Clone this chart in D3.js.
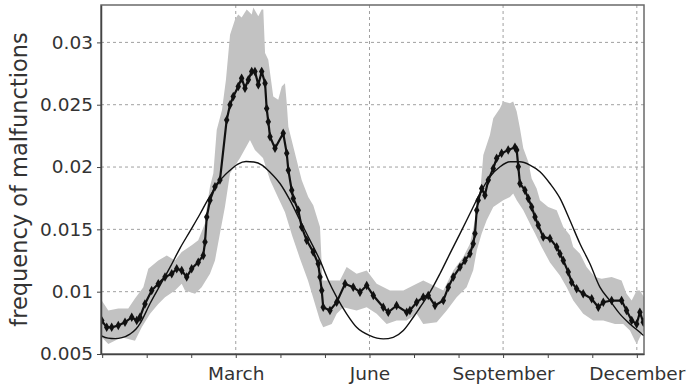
<!DOCTYPE html>
<html>
<head>
<meta charset="utf-8">
<script src="https://cdn.jsdelivr.net/npm/d3@7"></script>
<style>
  body { margin: 0; background: #fff; }
  text { font-family: "DejaVu Sans", sans-serif; fill: #333; }
</style>
</head>
<body>
<div id="chart"></div>
<script>
(function () {

  // Month ticks (day of year, months drawn evenly) and the labelled ones
  const monthTicks = [-30.4, 0, 30.4, 60.8, 91.3, 121.7, 152.1, 182.5, 212.9, 243.3, 273.8, 304.2, 334.6]
  const labelTicks = [60.8, 152.1, 243.3, 334.6]
  const labelNames = ["March", "June", "September", "December"]

  const yTicks = [0.005, 0.01, 0.015, 0.02, 0.025, 0.03]
  const yTickLabels = ["0.005", "0.01", "0.015", "0.02", "0.025", "0.03"]

  // Observed frequency [day, value]
  const observed = [
    [-30.7, 0.00768], [-27.3, 0.00714], [-23.9, 0.00714], [-19.4, 0.00728], [-14.8, 0.00754],
    [-10.2, 0.00795], [-6.8, 0.00768], [-4.6, 0.00795], [-1.2, 0.00902], [3.4, 0.01009],
    [7.9, 0.01063], [12.5, 0.01117], [17.1, 0.01144], [20.5, 0.01184], [23.9, 0.0117],
    [27.3, 0.01117], [30.7, 0.01184], [35.2, 0.01237], [38.6, 0.01291], [39.8, 0.01398],
    [41.0, 0.01599], [43.2, 0.01734], [46.6, 0.01841], [50.0, 0.01895], [54.6, 0.02378],
    [56.9, 0.02499], [59.1, 0.02565], [62.5, 0.02646], [64.8, 0.02713], [67.1, 0.02633],
    [69.4, 0.0270], [71.7, 0.02767], [73.9, 0.02767], [76.2, 0.0266], [78.5, 0.02767],
    [80.8, 0.02673], [81.9, 0.0247], [83.0, 0.02364], [84.2, 0.02243], [87.6, 0.0215],
    [93.2, 0.02271], [95.6, 0.0211], [96.7, 0.01975], [99.0, 0.01814], [100.1, 0.01748],
    [103.5, 0.01653], [105.8, 0.01519], [109.2, 0.01412], [113.7, 0.01318], [117.1, 0.01224],
    [118.3, 0.01117], [119.5, 0.01009], [120.5, 0.00875], [125.1, 0.00849], [129.7, 0.00915],
    [135.4, 0.01063], [141.0, 0.01036], [145.6, 0.00996], [150.2, 0.0105], [154.7, 0.00969],
    [161.5, 0.00875], [164.9, 0.00835], [170.6, 0.00889], [177.5, 0.00835], [179.7, 0.00849],
    [184.3, 0.00915], [188.8, 0.00956], [192.2, 0.0097], [196.8, 0.00889], [202.5, 0.00929],
    [205.9, 0.01036], [209.3, 0.01117], [213.9, 0.01197], [217.3, 0.01251], [220.7, 0.01305],
    [222.9, 0.01385], [224.1, 0.01466], [225.3, 0.01653], [226.3, 0.01734], [228.7, 0.01828],
    [230.9, 0.01774], [233.2, 0.01895], [236.6, 0.01989], [238.9, 0.0207], [242.3, 0.0211],
    [246.8, 0.02136], [251.4, 0.02158], [252.6, 0.02136], [253.7, 0.02002], [254.8, 0.01868],
    [258.2, 0.01814], [260.5, 0.01748], [262.8, 0.0168], [265.1, 0.01599], [267.3, 0.01533],
    [270.7, 0.01439], [275.3, 0.01426], [279.9, 0.01358], [282.1, 0.01305], [284.4, 0.01251],
    [287.8, 0.01157], [290.1, 0.01076], [293.5, 0.01023], [298.0, 0.00983], [303.8, 0.00943],
    [308.3, 0.00875], [311.7, 0.00915], [317.4, 0.00929], [324.2, 0.00929], [327.6, 0.00849],
    [331.1, 0.00768], [334.5, 0.00741], [336.7, 0.00835], [339.0, 0.00754]
  ]

  // Fitted seasonal curve [day, value]
  const fitted = [
    [-31.2, 0.00647], [-26.4, 0.00627], [-21.6, 0.00623], [-16.9, 0.00631], [-11.4, 0.0066],
    [-7.3, 0.007], [-4.6, 0.00744], [2.3, 0.00905], [9.1, 0.0105], [15.9, 0.01195],
    [22.7, 0.01348], [29.5, 0.01484], [36.3, 0.01621], [41.2, 0.01726], [46.6, 0.0183],
    [51.4, 0.01911], [56.9, 0.01975], [62.3, 0.02024], [67.8, 0.02044], [73.2, 0.0204],
    [78.7, 0.02016], [84.2, 0.01959], [91.0, 0.01868], [97.8, 0.01734], [104.6, 0.01573],
    [111.5, 0.01412], [118.3, 0.01251], [124.0, 0.0109], [129.7, 0.00956], [136.5, 0.00822],
    [143.3, 0.00714], [152.4, 0.00647], [161.5, 0.00621], [168.3, 0.00634], [175.2, 0.00688],
    [182.0, 0.00795], [186.6, 0.00875], [193.4, 0.00996], [200.2, 0.01144], [207.0, 0.01305],
    [213.9, 0.01466], [220.7, 0.01627], [227.5, 0.01788], [234.3, 0.01921], [241.2, 0.02002],
    [248.0, 0.02042], [254.8, 0.02042], [261.6, 0.02016], [268.5, 0.01962], [275.3, 0.01868],
    [282.1, 0.0175], [288.9, 0.01573], [295.8, 0.01385], [302.6, 0.01224], [309.4, 0.01036],
    [316.2, 0.00929], [323.0, 0.00822], [329.9, 0.00741], [336.7, 0.00674], [339.4, 0.00647]
  ]

  // Grey band, upper and lower edges [day, value]
  const bandUpper = [
    [-30.7, 0.00929], [-26.2, 0.00849], [-19.4, 0.00865], [-12.6, 0.00865], [-8.0, 0.00945],
    [-2.3, 0.01036], [1.1, 0.01184], [7.9, 0.01251], [13.7, 0.01291], [19.3, 0.01251],
    [23.9, 0.01318], [30.7, 0.01372], [35.2, 0.01412], [39.8, 0.01549], [41.2, 0.01694],
    [43.2, 0.01841], [45.5, 0.01951], [47.8, 0.02297], [51.4, 0.02458], [54.1, 0.0270],
    [56.9, 0.03062], [60.3, 0.03183], [62.5, 0.03223], [64.8, 0.03199], [68.3, 0.03263],
    [71.7, 0.03223], [72.8, 0.03279], [76.2, 0.03209], [78.5, 0.03263], [79.6, 0.03263],
    [80.8, 0.02915], [83.0, 0.02861], [86.4, 0.02565], [89.8, 0.02539], [92.2, 0.02646],
    [94.4, 0.02673], [95.6, 0.02512], [96.7, 0.02324], [101.2, 0.0211], [105.8, 0.01895],
    [110.3, 0.0176], [113.7, 0.01694], [118.3, 0.01519], [120.0, 0.0109], [125.1, 0.0109],
    [131.9, 0.0109], [136.5, 0.01197], [143.3, 0.01144], [150.2, 0.0117], [157.0, 0.01063],
    [166.1, 0.01009], [175.2, 0.01009], [184.3, 0.01063], [188.8, 0.0109], [193.4, 0.01063],
    [202.5, 0.01009], [209.3, 0.0117], [216.1, 0.01278], [220.7, 0.01385], [224.1, 0.01573],
    [227.5, 0.01774], [229.8, 0.02096], [234.3, 0.02257], [236.6, 0.02391], [241.2, 0.02472],
    [243.4, 0.02525], [248.0, 0.02512], [250.2, 0.02525], [252.6, 0.02445], [254.8, 0.02311],
    [257.1, 0.0215], [260.5, 0.02042], [262.8, 0.01909], [266.2, 0.01828], [268.5, 0.01734],
    [274.1, 0.0168], [279.9, 0.01653], [284.4, 0.01519], [288.9, 0.01452], [291.2, 0.01358],
    [295.8, 0.01305], [300.3, 0.01197], [306.0, 0.01117], [310.6, 0.01104], [317.4, 0.01117],
    [324.2, 0.0109], [327.6, 0.00983], [331.1, 0.00929], [334.5, 0.01009], [336.7, 0.01009],
    [339.5, 0.00956]
  ]
  const bandLower = [
    [-30.7, 0.00634], [-26.2, 0.0058], [-17.1, 0.00634], [-8.0, 0.00607], [-3.4, 0.00714],
    [2.3, 0.00822], [7.9, 0.00902], [12.5, 0.00956], [19.3, 0.01009], [23.9, 0.01063],
    [26.1, 0.01009], [33.0, 0.00983], [37.5, 0.01036], [43.2, 0.01144], [46.6, 0.01251],
    [50.0, 0.01466], [53.4, 0.0168], [56.9, 0.01951], [63.7, 0.02072], [70.5, 0.02217],
    [73.9, 0.02136], [79.4, 0.02072], [84.2, 0.01895], [89.6, 0.01758], [94.4, 0.01637],
    [99.2, 0.01452], [104.6, 0.01267], [110.1, 0.0109], [114.9, 0.00902], [118.3, 0.00768],
    [120.5, 0.00714], [126.3, 0.00741], [129.7, 0.00822], [134.2, 0.00875], [143.3, 0.00849],
    [150.2, 0.00875], [157.0, 0.00822], [163.8, 0.00741], [170.6, 0.00768], [177.5, 0.00768],
    [184.3, 0.00822], [188.8, 0.00741], [198.0, 0.00754], [204.8, 0.00849], [211.6, 0.00956],
    [218.4, 0.01036], [222.9, 0.01171], [225.3, 0.01331], [228.7, 0.01466], [232.1, 0.01573],
    [236.6, 0.0168], [243.4, 0.01734], [248.0, 0.0176], [250.2, 0.01788], [252.6, 0.01734],
    [257.1, 0.01653], [261.6, 0.01546], [265.1, 0.01466], [269.6, 0.01358], [275.3, 0.01235],
    [282.1, 0.0113], [286.7, 0.01036], [291.2, 0.00929], [298.0, 0.00822], [304.8, 0.00768],
    [311.7, 0.00768], [319.7, 0.00741], [325.3, 0.00741], [329.9, 0.00688], [333.3, 0.00607],
    [334.5, 0.0058], [336.7, 0.00634], [339.5, 0.00688]
  ]

  // Margin convention
  const margin = { top: 5, right: 44, bottom: 33, left: 101 }
  const width = 688 - margin.left - margin.right
  const height = 387 - margin.top - margin.bottom

  const root = d3.select("#chart").append("svg")
    .attr("width", width + margin.left + margin.right)
    .attr("height", height + margin.top + margin.bottom)

  const svg = root.append("g")
    .attr("transform", "translate(" + margin.left + "," + margin.top + ")")

  const xScale = d3.scaleLinear().domain([-31.2, 339.5]).range([0, width])
  const yScale = d3.scaleLinear().domain([0.005, 0.033]).range([height, 0])

  svg.append("clipPath").attr("id", "plot-clip")
    .append("rect").attr("width", width).attr("height", height)

  // Dashed grid
  svg.selectAll(".hgrid")
    .data(yTicks.slice(1))
    .join("line")
    .attr("class", "hgrid")
    .attr("x1", 0).attr("x2", width)
    .attr("y1", d => yScale(d)).attr("y2", d => yScale(d))
    .attr("stroke", "#a0a0a0").attr("stroke-dasharray", "3,3")

  svg.selectAll(".vgrid")
    .data(labelTicks)
    .join("line")
    .attr("class", "vgrid")
    .attr("x1", d => xScale(d)).attr("x2", d => xScale(d))
    .attr("y1", 0).attr("y2", height)
    .attr("stroke", "#a0a0a0").attr("stroke-dasharray", "3,3")

  const line = d3.line()
    .x(d => xScale(d[0]))
    .y(d => yScale(d[1]))

  const plot = svg.append("g").attr("clip-path", "url(#plot-clip)")

  // Grey band
  plot.append("path")
    .attr("d", line(bandUpper.concat(bandLower.slice().reverse())) + "Z")
    .attr("fill", "#c2c2c2")

  // Fitted curve
  plot.append("path")
    .datum(fitted)
    .attr("d", line.curve(d3.curveMonotoneX))
    .attr("fill", "none")
    .attr("stroke", "#111")
    .attr("stroke-width", 1.4)

  // Observed line with markers
  plot.append("path")
    .datum(observed)
    .attr("d", d3.line().x(d => xScale(d[0])).y(d => yScale(d[1])))
    .attr("fill", "none")
    .attr("stroke", "#111")
    .attr("stroke-width", 2.2)

  plot.selectAll(".marker")
    .data(observed)
    .join("path")
    .attr("class", "marker")
    .attr("transform", d => "translate(" + xScale(d[0]) + "," + yScale(d[1]) + ")")
    .attr("d", d3.symbol().type(d3.symbolDiamond).size(26))
    .attr("fill", "#111")

  // Frame
  svg.append("rect")
    .attr("width", width).attr("height", height)
    .attr("fill", "none")
    .attr("stroke", "#6a6a6a")
    .attr("stroke-width", 1.5)

  // Axes
  const yAxis = svg.append("g")
    .call(d3.axisLeft(yScale).tickValues(yTicks).tickSize(4).tickSizeOuter(0).tickPadding(4)
      .tickFormat((d, i) => yTickLabels[i]))
  yAxis.selectAll("text").style("font-size", "18.5px")

  const xAxis = svg.append("g")
    .attr("transform", "translate(0," + height + ")")
    .call(d3.axisBottom(xScale).tickValues(monthTicks).tickSize(4).tickSizeOuter(0).tickPadding(9)
      .tickFormat(d => {
        const i = labelTicks.indexOf(d)
        return i >= 0 ? labelNames[i] : ""
      }))
  xAxis.selectAll("text").style("font-size", "18.5px")

  root.selectAll(".domain").attr("stroke", "#444").attr("stroke-width", 1.5)
  root.selectAll(".tick line").attr("stroke", "#444")

  // Axis title
  root.append("text")
    .attr("transform", "translate(27," + (margin.top + yScale(0.019)) + ") rotate(-90)")
    .attr("text-anchor", "middle")
    .style("font-size", "22.5px")
    .text("frequency of malfunctions")

})();
</script>
</body>
</html>
